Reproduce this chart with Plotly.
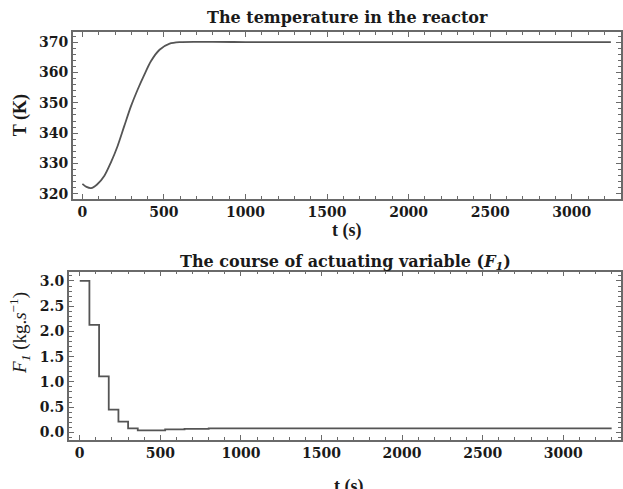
import plotly.graph_objects as go

# Temperature in the reactor
t_T = [0, 25, 53, 90, 135, 175, 216, 257, 298, 339, 380, 420, 473, 535, 600, 700, 800, 1000, 1500, 2000, 2500, 3000, 3240]
T_K = [323.3, 322.3, 321.9, 323.1, 326.0, 330.4, 335.8, 342.4, 348.9, 354.4, 359.3, 363.7, 367.5, 369.5, 370.0, 370.1, 370.1, 370.0, 370.0, 370.0, 370.0, 370.0, 370.0]

# Actuating variable F1 (step-wise)
t_F = [0, 60, 120, 180, 240, 300, 360, 530, 650, 800, 1500, 2500, 3300]
F1 = [3.0, 2.13, 1.11, 0.45, 0.21, 0.08, 0.04, 0.06, 0.07, 0.08, 0.08, 0.08, 0.08]

x_ticks = [0, 500, 1000, 1500, 2000, 2500, 3000]
T_ticks = [320, 330, 340, 350, 360, 370]
F_ticks = [0.0, 0.5, 1.0, 1.5, 2.0, 2.5, 3.0]
F_ticklabels = ["0.0", "0.5", "1.0", "1.5", "2.0", "2.5", "3.0"]

W, H = 623, 489
LINE = "#555555"
FRAME = "#6a6a6a"
SERIF = "Liberation Serif"
TICKFONT = "DejaVu Serif"
tickfont = dict(family=TICKFONT, size=14, color="#1a1a1a", weight="bold")

fig = go.Figure()
fig.add_trace(go.Scatter(x=t_T, y=T_K, mode="lines", line=dict(color=LINE, width=1.8, shape="spline", smoothing=0.8),
                         xaxis="x", yaxis="y", showlegend=False))
fig.add_trace(go.Scatter(x=t_F, y=F1, mode="lines", line=dict(color=LINE, width=1.8, shape="hv"),
                         xaxis="x2", yaxis="y2", showlegend=False))

def xax(domain, rng, anchor):
    return dict(domain=domain, range=rng, anchor=anchor, tickvals=x_ticks, ticks="inside", ticklen=5,
                tickwidth=1.2, tickcolor=FRAME, showline=True, linecolor=FRAME, linewidth=1.5, mirror="ticks",
                showgrid=False, zeroline=False, tickfont=tickfont,
                minor=dict(dtick=100, ticks="inside", ticklen=3, tickcolor=FRAME, showgrid=False))

def yax(domain, rng, anchor, tv, tt, mdt):
    return dict(domain=domain, range=rng, anchor=anchor, tickvals=tv, ticktext=tt, ticks="inside", ticklen=5,
                tickwidth=1.2, tickcolor=FRAME, showline=True, linecolor=FRAME, linewidth=1.5, mirror="ticks",
                showgrid=False, zeroline=False, tickfont=tickfont,
                minor=dict(dtick=mdt, ticks="inside", ticklen=3, tickcolor=FRAME, showgrid=False))

fig.update_layout(
    width=W, height=H, margin=dict(l=0, r=0, t=0, b=0),
    paper_bgcolor="white", plot_bgcolor="white",
    xaxis=xax([73 / W, 1.0], [-59, 3302], "y"),
    yaxis=yax([1 - 200 / H, 1 - 32.3 / H], [318.4, 373.3], "x", T_ticks, [str(v) for v in T_ticks], 2),
    xaxis2=xax([69 / W, 1.0], [-68, 3358], "y2"),
    yaxis2=yax([1 - 442.3 / H, 1 - 273.3 / H], [-0.144, 3.185], "x2", F_ticks, F_ticklabels, 0.1),
)

def ann(text, x, y, size=16, angle=0, yanchor="middle", family=TICKFONT):
    fig.add_annotation(text=text, x=x / W, y=1 - y / H, xref="paper", yref="paper", showarrow=False,
                       xanchor="center", yanchor=yanchor, textangle=angle,
                       font=dict(family=family, size=size, color="#1a1a1a"))

ann("<b>The temperature in the reactor</b>", 349, 18)
ann("<b>The course of actuating variable (</b><b><i>F<sub>1</sub></i>)</b>", 347, 264)
ann("<b>t (s)</b>", 348, 232, size=18, family=SERIF)
ann("<b>t (s)</b>", 350, 477, size=18, family=SERIF, yanchor="top")
ann("<b>T (K)</b>", 20, 116, size=18, angle=-90, family=SERIF)
ann("<i>F<sub>1</sub></i> (kg.<i>s</i><sup>−1</sup>)", 20, 335, size=19, angle=-90, family=SERIF)

fig.write_html("out.html", config={"displayModeBar": False},
               post_script="document.body.style.margin='0px';")
